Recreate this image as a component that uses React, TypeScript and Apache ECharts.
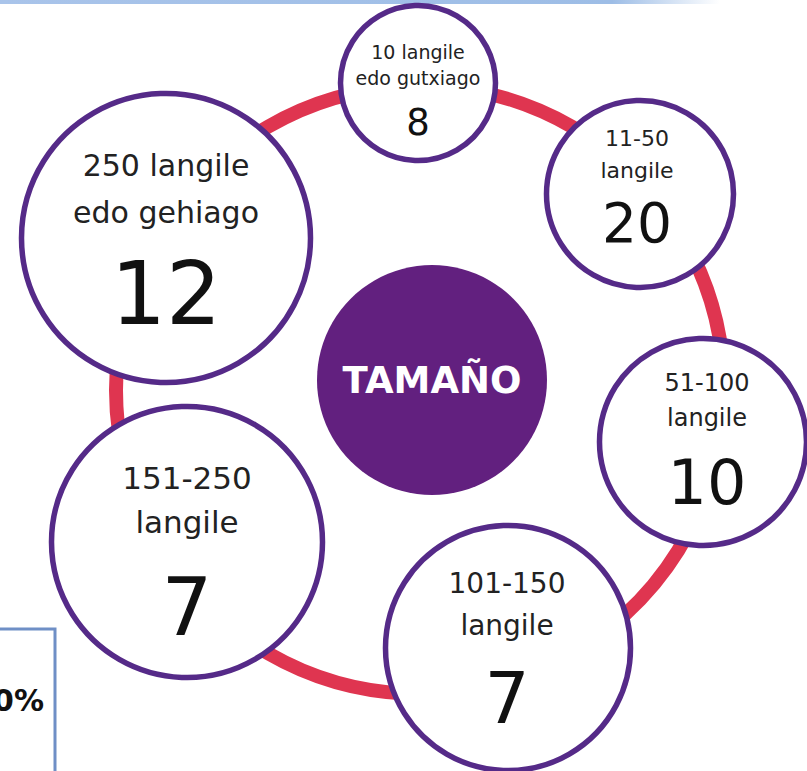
import React, { useEffect, useRef } from "react";
import * as echarts from "echarts";

// ---- data ----
const categories: string[] = [
  "10 langile\nedo gutxiago",
  "11-50\nlangile",
  "51-100\nlangile",
  "101-150\nlangile",
  "151-250\nlangile",
  "250 langile\nedo gehiago",
];
const counts: number[] = [8, 20, 10, 7, 7, 12];
const centerTitle = "TAMAÑO";
const sideTexts: string[] = ["90%", "10%"];

// ---- layout (positions / sizes, kept apart from data) ----
const W = 807;
const H = 771;
const bubblePos: [number, number][] = [
  [418, 83],
  [640, 194],
  [703, 442],
  [508, 648],
  [187, 542],
  [166, 238],
];
const bubbleR: number[] = [80, 96, 106, 125, 138, 147];
// [labelFont, labelLineHeight, numberFont, numberLineHeight, dx, dy]
const labelLayout: number[][] = [
  [19, 26, 37, 62, 0, 13],
  [22, 32, 55, 74, -3, -3],
  [24, 35, 62, 93, 4, 5],
  [28, 42, 71, 104, -1, 8],
  [31, 44, 80, 126, 0, 21],
  [30, 47, 87, 117, 0, 9],
];
const ringPos: [number, number] = [420, 390];
const ringR = 304;
const centerPos: [number, number] = [432, 380];
const centerR = 115;

const PURPLE = "#552a88";
const CENTER_FILL = "#62207f";
const RED = "#df3550";
const FONT = "'DejaVu Sans', 'Noto Sans', sans-serif";

export default function App() {
  const ref = useRef<HTMLDivElement>(null);

  useEffect(() => {
    document.body.style.margin = "0";
    if (!ref.current) return;
    const chart = echarts.init(ref.current, null, { renderer: "svg" });

    const bubbleData = categories.map((cat, i) => {
      const [f, l1, F, ln, dx, dy] = labelLayout[i];
      const lines = cat
        .split("\n")
        .map((s) => `{t|${s}}`)
        .join("\n");
      return {
        value: bubblePos[i],
        symbolSize: bubbleR[i] * 2 - 5,
        label: {
          show: true,
          position: "inside",
          offset: [dx, dy],
          formatter: `${lines}\n{n|${counts[i]}}`,
          rich: {
            t: {
              fontSize: f,
              lineHeight: l1,
              fontFamily: FONT,
              color: "#222222",
              align: "center",
            },
            n: {
              fontSize: F,
              lineHeight: ln,
              fontFamily: FONT,
              color: "#111111",
              align: "center",
            },
          },
        },
      };
    });

    chart.setOption({
      animation: false,
      backgroundColor: "#ffffff",
      grid: { left: 0, right: 0, top: 0, bottom: 0 },
      xAxis: { type: "value", min: 0, max: W, show: false },
      yAxis: { type: "value", min: 0, max: H, inverse: true, show: false },
      graphic: [
        {
          type: "rect",
          shape: { x: 0, y: 0, width: 720, height: 4 },
          style: {
            fill: new echarts.graphic.LinearGradient(0, 0, 1, 0, [
              { offset: 0, color: "#a9c4ea" },
              { offset: 0.85, color: "#9dbde6" },
              { offset: 1, color: "rgba(157,189,230,0)" },
            ]),
          },
          silent: true,
        },
        {
          type: "rect",
          shape: { x: -10, y: 629, width: 65, height: 200 },
          style: { fill: "none", stroke: "#6f8fc6", lineWidth: 3 },
          silent: true,
        },
        {
          type: "text",
          x: 44,
          y: 700,
          style: {
            text: sideTexts[0],
            fontSize: 30,
            fontWeight: "bold",
            fontFamily: FONT,
            fill: "#111111",
            align: "right",
            verticalAlign: "middle",
          },
          silent: true,
        },
        {
          type: "text",
          x: 40,
          y: 785,
          style: {
            text: sideTexts[1],
            fontSize: 30,
            fontWeight: "bold",
            fontFamily: FONT,
            fill: "#111111",
            align: "right",
            verticalAlign: "middle",
          },
          silent: true,
        },
      ],
      series: [
        {
          type: "scatter",
          silent: true,
          clip: false,
          z: 1,
          symbol: "circle",
          data: [
            {
              value: ringPos,
              symbolSize: ringR * 2,
              itemStyle: {
                color: "rgba(0,0,0,0)",
                borderColor: RED,
                borderWidth: 14,
                opacity: 1,
              },
            },
          ],
        },
        {
          type: "scatter",
          silent: true,
          clip: false,
          z: 2,
          symbol: "circle",
          itemStyle: {
            color: "#ffffff",
            borderColor: PURPLE,
            borderWidth: 5.5,
            opacity: 1,
          },
          data: bubbleData,
        },
        {
          type: "scatter",
          silent: true,
          clip: false,
          z: 3,
          symbol: "circle",
          itemStyle: { color: CENTER_FILL, opacity: 1 },
          label: {
            show: true,
            position: "inside",
            formatter: centerTitle,
            fontSize: 37,
            fontWeight: "bold",
            fontFamily: FONT,
            color: "#ffffff",
          },
          data: [{ value: centerPos, symbolSize: centerR * 2 }],
        },
      ],
    });

    return () => chart.dispose();
  }, []);

  return (
    <div
      ref={ref}
      style={{ position: "fixed", left: 0, top: 0, width: W, height: H }}
    />
  );
}
